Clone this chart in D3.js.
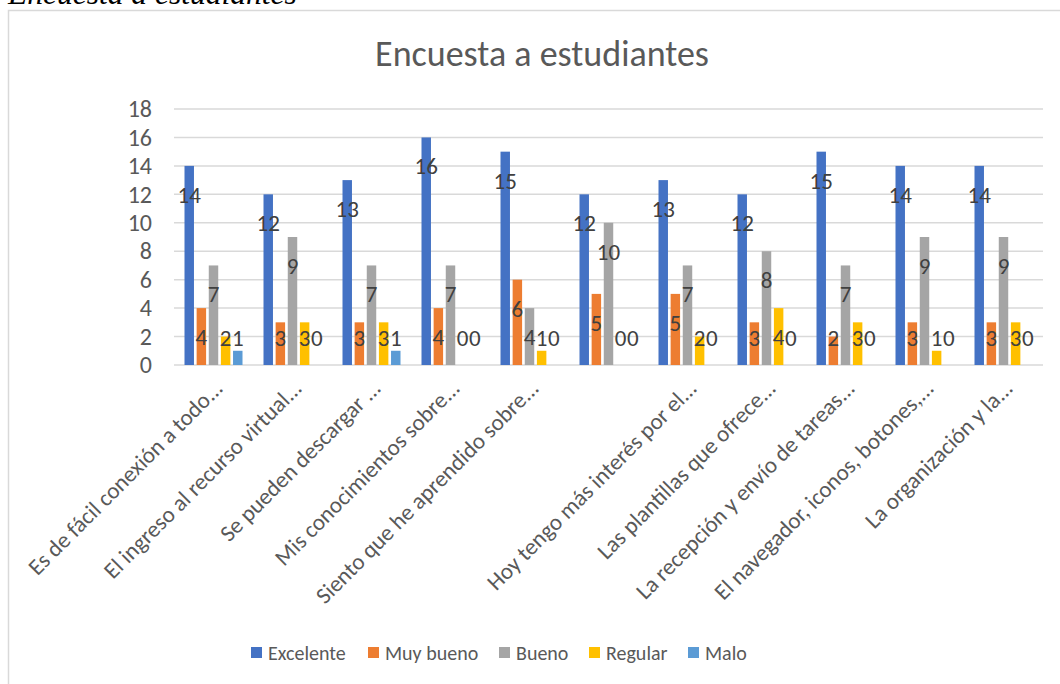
<!DOCTYPE html>
<html>
<head>
<meta charset="utf-8">
<script src="https://cdn.jsdelivr.net/npm/d3@7"></script>
<style>
  html, body { margin: 0; padding: 0; background: #fff; }
  svg { display: block; }
</style>
</head>
<body>
<svg id="chart" width="1060" height="684"></svg>
<script>
// Survey questions (truncated as shown on the axis); the 6th group has no label
const categories = [
  "Es de fácil conexión a todo...",
  "El ingreso al recurso virtual...",
  "Se pueden descargar ...",
  "Mis conocimientos sobre...",
  "Siento que he aprendido sobre...",
  "",
  "Hoy tengo más interés por el...",
  "Las plantillas que ofrece...",
  "La recepción y envío de tareas...",
  "El navegador, iconos, botones,...",
  "La organización y la..."
];

const seriesNames = ["Excelente", "Muy bueno", "Bueno", "Regular", "Malo"];
const excelente = [14, 12, 13, 16, 15, 12, 13, 12, 15, 14, 14];
const muyBueno  = [4, 3, 3, 4, 6, 5, 5, 3, 2, 3, 3];
const bueno     = [7, 9, 7, 7, 4, 10, 7, 8, 7, 9, 9];
const regular   = [2, 3, 3, 0, 1, 0, 2, 4, 3, 1, 3];
const malo      = [1, 0, 1, 0, 0, 0, 0, 0, 0, 0, 0];
const yTicks = [0, 2, 4, 6, 8, 10, 12, 14, 16, 18];

const seriesValues = [excelente, muyBueno, bueno, regular, malo];
const colors = ["#4472C4", "#ED7D31", "#A5A5A5", "#FFC000", "#5B9BD5"];

const FONT = "Calibri, Carlito, 'Open Sans', sans-serif";
const svg = d3.select("#chart");

// caption above the chart frame
svg.append("text")
  .attr("x", 8).attr("y", 4)
  .attr("font-family", "'Liberation Serif', 'Times New Roman', serif")
  .attr("font-style", "italic")
  .attr("font-size", 31.5)
  .attr("fill", "#000")
  .text("Encuesta a estudiantes");

// chart frame
svg.append("rect")
  .attr("x", 8.5).attr("y", 10.5)
  .attr("width", 1100).attr("height", 700)
  .attr("fill", "#fff")
  .attr("stroke", "#d9d9d9").attr("stroke-width", 1.5);

// title
svg.append("text")
  .attr("x", 542).attr("y", 66)
  .attr("text-anchor", "middle")
  .attr("font-family", FONT)
  .attr("font-size", 36)
  .attr("fill", "#595959")
  .text("Encuesta a estudiantes");

const plot = { left: 174, right: 1043, top: 109, bottom: 365 };

const x0 = d3.scaleBand()
  .domain(d3.range(categories.length))
  .range([plot.left, plot.right])
  .paddingInner(0).paddingOuter(0);

const x1 = d3.scaleBand()
  .domain(d3.range(seriesNames.length))
  .range([10.5, x0.bandwidth() - 10.5])
  .paddingInner(0.22).paddingOuter(0);

const y = d3.scaleLinear().domain([0, 18]).range([plot.bottom, plot.top]);

// gridlines
svg.append("g")
  .selectAll("line")
  .data(yTicks)
  .join("line")
  .attr("x1", plot.left).attr("x2", plot.right)
  .attr("y1", d => y(d)).attr("y2", d => y(d))
  .attr("stroke", "#d9d9d9").attr("stroke-width", 1.5);

// y axis labels
const yAxis = d3.axisLeft(y).tickValues(yTicks).tickSize(0).tickPadding(0);
const yg = svg.append("g")
  .attr("transform", `translate(${plot.left - 22},0)`)
  .call(yAxis);
yg.select(".domain").remove();
yg.selectAll("text")
  .attr("font-family", FONT)
  .attr("font-size", 24)
  .attr("fill", "#595959");

// bars
const groups = svg.append("g")
  .selectAll("g")
  .data(categories.map((c, i) => i))
  .join("g")
  .attr("transform", i => `translate(${x0(i)},0)`);

groups.selectAll("rect")
  .data(i => seriesValues.map((vals, s) => ({ s, v: vals[i] })))
  .join("rect")
  .attr("x", d => x1(d.s))
  .attr("width", x1.bandwidth())
  .attr("y", d => y(d.v))
  .attr("height", d => y(0) - y(d.v))
  .attr("fill", d => colors[d.s]);

// value labels, centred on each bar and kept inside the plot area
groups.selectAll("text")
  .data(i => seriesValues.map((vals, s) => ({ s, v: vals[i] })))
  .join("text")
  .attr("x", d => x1(d.s) + x1.bandwidth() / 2)
  .attr("y", d => Math.min(y(d.v) + 29, plot.bottom - 27))
  .attr("dy", "0.35em")
  .attr("text-anchor", "middle")
  .attr("font-family", FONT)
  .attr("font-size", 23)
  .attr("fill", "#404040")
  .text(d => d.v);

// x axis category labels, rotated
const xg = svg.append("g");
xg.selectAll("text")
  .data(categories.map((c, i) => ({ c, i })))
  .join("text")
  .attr("transform", d => `translate(${x0(d.i) + x0.bandwidth() / 2 + 5},${plot.bottom + 19}) rotate(-45)`)
  .attr("text-anchor", "end")
  .attr("dy", "0.35em")
  .attr("font-family", FONT)
  .attr("font-size", 23)
  .attr("fill", "#595959")
  .text(d => d.c);

// legend
const legendX = [251, 368, 499, 589, 688];
const lg = svg.append("g");
const items = lg.selectAll("g")
  .data(seriesNames.map((n, s) => ({ n, s })))
  .join("g")
  .attr("transform", d => `translate(${legendX[d.s]},653)`);
items.append("rect")
  .attr("x", 0).attr("y", -6)
  .attr("width", 11).attr("height", 11)
  .attr("fill", d => colors[d.s]);
items.append("text")
  .attr("x", 17).attr("y", 0)
  .attr("dy", "0.35em")
  .attr("font-family", FONT)
  .attr("font-size", 20)
  .attr("fill", "#595959")
  .text(d => d.n);
</script>
</body>
</html>
